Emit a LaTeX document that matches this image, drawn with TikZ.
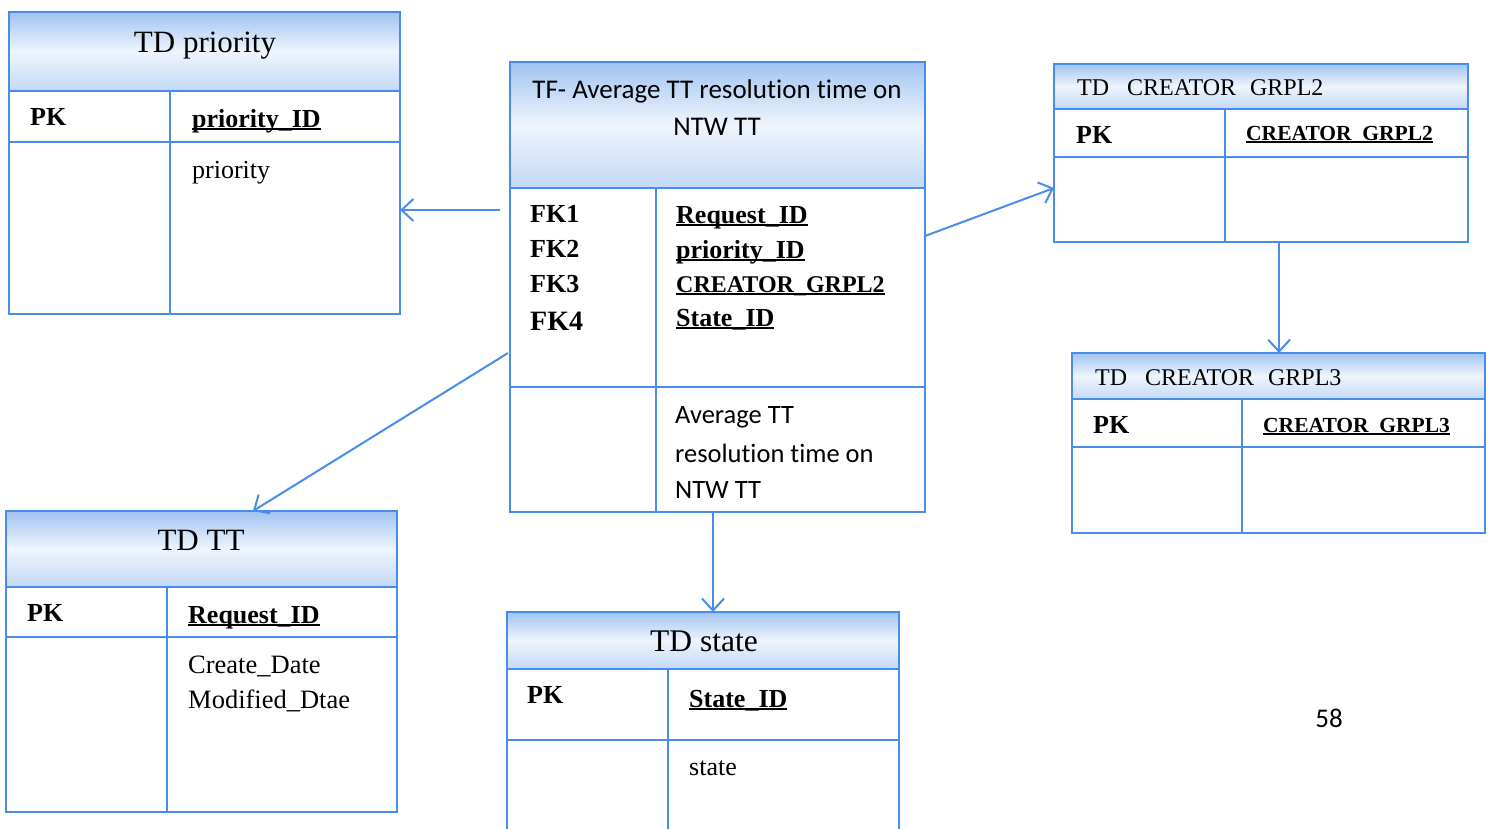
\documentclass[tikz,border=0pt]{standalone}
\usepackage{fontspec}
\setmainfont{Liberation Serif}
\newfontfamily\calfont[Ligatures=NoCommon]{Carlito}
\usetikzlibrary{arrows.meta,calc}
\definecolor{lb}{RGB}{72,142,232}
\definecolor{hb}{RGB}{120,170,235}
\newcommand\myfs[1]{\fontsize{#1}{#1}\selectfont}
\newcommand\ulx[1]{\setbox0\hbox{#1}\rlap{\rule[-3.2pt]{\wd0}{1.8pt}}\box0}
\tikzset{
  tbl/.style={draw=lb, line width=2pt, inner sep=0pt, outer sep=0pt, anchor=north west, rectangle},
  grid/.style={draw=lb, line width=2pt},
  hdr/.style={top color=hb!70!white, bottom color=hb!45!white, middle color=hb!12!white},
  txt/.style={anchor=base west, inner sep=0pt},
  ttl/.style={anchor=base, inner sep=0pt},
  bf/.style={font=\myfs{26}\bfseries},
  arr/.style={draw=lb, line width=2pt, -{Straight Barb[length=12pt,width=22pt]}}
}
\begin{document}
\begin{tikzpicture}[x=1pt,y=-1pt]
\clip (0,0) rectangle (1496,828);
\fill[white] (0,0) rectangle (1496,828);

% TD priority
\shade[hdr] (9,12) rectangle (400,91);
\draw[grid] (9,91)--(400,91) (9,142)--(400,142) (170,91)--(170,314);
\node[tbl, minimum width=391pt, minimum height=302pt] (pri) at (9,12) {};
\node[ttl, font=\myfs{31}] (prit) at (205,52) {TD priority};
\node[txt, bf] (pripk) at (30,125) {PK};
\node[txt, bf] (priid) at (192,127) {\ulx{priority\_ID}};
\node[txt, font=\myfs{26}] (prif) at (192,178) {priority};

% TF central
\shade[hdr] (510,62) rectangle (925,188);
\draw[grid] (510,188)--(925,188) (510,387)--(925,387) (656,188)--(656,512);
\node[tbl, minimum width=415pt, minimum height=450pt] (tf) at (510,62) {};
\node[ttl, font=\calfont\myfs{27}] (tfh1) at (717,98) {TF- Average TT resolution time on};
\node[ttl, font=\calfont\myfs{27}] (tfh2) at (717,135) {NTW TT};
\node[txt, bf] (fk1) at (530,222) {FK1};
\node[txt, bf] (fk2) at (530,257) {FK2};
\node[txt, bf] (fk3) at (530,292) {FK3};
\node[txt, font=\myfs{28}\bfseries] (fk4) at (530,330) {FK4};
\node[txt, bf] (tfreq) at (676,223) {\ulx{Request\_ID}};
\node[txt, bf] (tfpri) at (676,258) {\ulx{priority\_ID}};
\node[txt, font=\myfs{24}\bfseries] (tfcre) at (676,292) {\ulx{CREATOR\_GRPL2}};
\node[txt, bf] (tfsta) at (676,326) {\ulx{State\_ID}};
\node[txt, font=\calfont\myfs{26.5}] (tfm1) at (675,423) {Average TT};
\node[txt, font=\calfont\myfs{26.5}] (tfm2) at (675,462) {resolution time on};
\node[txt, font=\calfont\myfs{26.5}] (tfm3) at (675,498) {NTW TT};

% TD CREATOR GRPL2
\shade[hdr] (1054,64) rectangle (1468,109);
\draw[grid] (1054,109)--(1468,109) (1054,157)--(1468,157) (1225,109)--(1225,242);
\node[tbl, minimum width=414pt, minimum height=178pt] (g2) at (1054,64) {};
\node[txt, font=\myfs{24}] (g2t) at (1077,95) {TD\hspace{18pt}CREATOR\hspace{14pt}GRPL2};
\node[txt, bf] (g2pk) at (1076,143) {PK};
\node[txt, font=\myfs{21.5}\bfseries] (g2id) at (1246,140) {\ulx{CREATOR\_GRPL2}};

% TD CREATOR GRPL3
\shade[hdr] (1072,353) rectangle (1485,399);
\draw[grid] (1072,399)--(1485,399) (1072,447)--(1485,447) (1242,399)--(1242,533);
\node[tbl, minimum width=413pt, minimum height=180pt] (g3) at (1072,353) {};
\node[txt, font=\myfs{24}] (g3t) at (1095,385) {TD\hspace{18pt}CREATOR\hspace{14pt}GRPL3};
\node[txt, bf] (g3pk) at (1093,433) {PK};
\node[txt, font=\myfs{21.5}\bfseries] (g3id) at (1263,432) {\ulx{CREATOR\_GRPL3}};

% TD TT
\shade[hdr] (6,511) rectangle (397,587);
\draw[grid] (6,587)--(397,587) (6,637)--(397,637) (167,587)--(167,812);
\node[tbl, minimum width=391pt, minimum height=301pt] (tt) at (6,511) {};
\node[ttl, font=\myfs{31}] (ttt) at (201,550) {TD TT};
\node[txt, bf] (ttpk) at (27,621) {PK};
\node[txt, bf] (ttid) at (188,623) {\ulx{Request\_ID}};
\node[txt, font=\myfs{26.5}] (ttf1) at (188,673) {Create\_Date};
\node[txt, font=\myfs{26.5}] (ttf2) at (188,708) {Modified\_Dtae};

% TD state
\shade[hdr] (507,612) rectangle (899,669);
\draw[grid] (507,669)--(899,669) (507,740)--(899,740) (668,669)--(668,840);
\node[tbl, minimum width=392pt, minimum height=228pt] (st) at (507,612) {};
\node[ttl, font=\myfs{31.5}] (stt) at (704,651) {TD state};
\node[txt, bf] (stpk) at (527,703) {PK};
\node[txt, bf] (stid) at (689,707) {\ulx{State\_ID}};
\node[txt, font=\myfs{26}] (stf) at (689,775) {state};

% page number
\node[ttl, font=\calfont\myfs{27}] (pg) at (1329,727) {58};

% connectors
\draw[arr] ($(tf.west |- 0,210)+(-10,0)$) -- (pri.east |- 0,210);
\draw[arr] ($(tf.west |- 0,353)+(-2,0)$) -- (tt.north -| 253,0);
\draw[arr] (tf.east |- 0,236) -- (g2.west |- 0,188);
\draw[arr] (tf.south -| 713,0) -- (st.north -| 713,0);
\draw[arr] (g2.south -| 1279,0) -- (g3.north -| 1279,0);
\end{tikzpicture}
\end{document}
